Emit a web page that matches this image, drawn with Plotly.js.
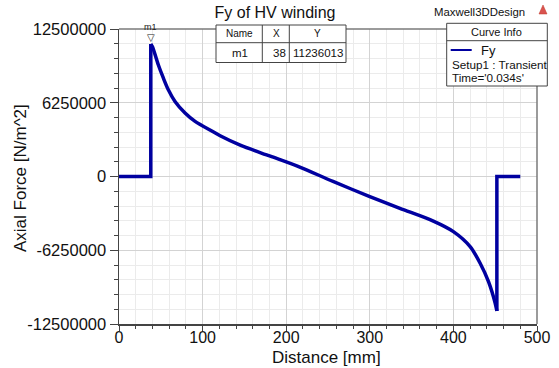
<!DOCTYPE html>
<html>
<head>
<meta charset="utf-8">
<script src="https://cdn.plot.ly/plotly-3.0.1.min.js"></script>
<style>
  html, body { margin: 0; padding: 0; background: #ffffff; }
  #chart { width: 559px; height: 368px; }
</style>
</head>
<body>
<div id="chart"></div>
<script>
// ---- data ----
const distance = [0, 38, 38, 40, 47, 53, 59, 67, 79, 91, 111, 121, 145, 181, 217, 256, 300, 336, 376, 400, 420, 432, 442, 450, 452, 452, 480];
const axialForce = [0, 0, 11236013, 11000000, 9470000, 8350000, 7350000, 6360000, 5380000, 4670000, 3850000, 3450000, 2650000, 1720000, 780000, -420000, -1700000, -2700000, -3780000, -4670000, -5940000, -7350000, -8910000, -10740000, -11400000, 0, 0];

const xTickVals = [0, 100, 200, 300, 400, 500];
const yTickVals = [-12500000, -6250000, 0, 6250000, 12500000];
const yTickText = ['-12500000', '-6250000', '0', '6250000', '12500000'];

const markerName = 'm1';
const markerX = 38;
const markerY = 11236013;

const tableHeader = ['Name', 'X', 'Y'];
const tableRow = [markerName, String(markerX), String(markerY)];

const curveName = 'Fy';
const curveInfo = ['Setup1 : Transient', "Time='0.034s'"];

// ---- layout geometry (pixels) ----
const W = 559, H = 368;
const L = 119, R = 537, T = 29, B = 324;
const px = v => (v - L) / (R - L);
const py = v => (B - v) / (B - T);

const FONT = 'Liberation Sans, Arial, sans-serif';
const lineColor = '#0000a0';

// split the series at its jumps: flat start, smooth curve, jump back, flat end
const peakIdx = axialForce.indexOf(markerY);
const minIdx = axialForce.indexOf(Math.min(...axialForce));
const base = { type: 'scatter', mode: 'lines', showlegend: false, hoverinfo: 'skip' };
const traces = [
  Object.assign({}, base, { x: distance.slice(0, peakIdx + 1), y: axialForce.slice(0, peakIdx + 1), line: { color: lineColor, width: 3.5, shape: 'linear' } }),
  Object.assign({}, base, { x: distance.slice(peakIdx, minIdx + 1), y: axialForce.slice(peakIdx, minIdx + 1), line: { color: lineColor, width: 3.5, shape: 'spline', smoothing: 0.8 }, name: curveName }),
  Object.assign({}, base, { x: distance.slice(minIdx), y: axialForce.slice(minIdx), line: { color: lineColor, width: 3.5, shape: 'linear' } })
];

const shapes = [
  { type: 'line', xref: 'paper', yref: 'paper', x0: 0, x1: 1, y0: 1, y1: 1, line: { color: '#7a7a7a', width: 1.5 }, layer: 'above' },
  { type: 'line', xref: 'paper', yref: 'paper', x0: 1, x1: 1, y0: 0, y1: 1, line: { color: '#7a7a7a', width: 1.5 }, layer: 'above' },
  // marker table
  { type: 'rect', xref: 'paper', yref: 'paper', x0: px(216), x1: px(346), y0: py(62.5), y1: py(25), fillcolor: '#ffffff', line: { color: '#444', width: 1 }, layer: 'above' },
  { type: 'line', xref: 'paper', yref: 'paper', x0: px(216), x1: px(346), y0: py(42.7), y1: py(42.7), line: { color: '#444', width: 1 }, layer: 'above' },
  { type: 'line', xref: 'paper', yref: 'paper', x0: px(262.3), x1: px(262.3), y0: py(62.5), y1: py(25), line: { color: '#444', width: 1 }, layer: 'above' },
  { type: 'line', xref: 'paper', yref: 'paper', x0: px(289.3), x1: px(289.3), y0: py(62.5), y1: py(25), line: { color: '#444', width: 1 }, layer: 'above' },
  // curve info box
  { type: 'rect', xref: 'paper', yref: 'paper', x0: px(446.7), x1: px(547.3), y0: py(86), y1: py(23.3), fillcolor: '#ffffff', line: { color: '#444', width: 1 }, layer: 'above' },
  { type: 'line', xref: 'paper', yref: 'paper', x0: px(446.7), x1: px(547.3), y0: py(40.7), y1: py(40.7), line: { color: '#444', width: 1 }, layer: 'above' },
  { type: 'line', xref: 'paper', yref: 'paper', x0: px(450.7), x1: px(471.7), y0: py(50), y1: py(50), line: { color: lineColor, width: 2 }, layer: 'above' },
  // logo triangle
  { type: 'path', xref: 'paper', yref: 'paper', path: `M ${px(539)} ${py(14)} L ${px(547)} ${py(14)} L ${px(543)} ${py(5)} Z`, fillcolor: '#d9534f', line: { color: '#c0392b', width: 0.5 }, layer: 'above' }
];

const ann = (text, x, y, size, xanchor, extra) => Object.assign({
  text: text, xref: 'paper', yref: 'paper', x: px(x), y: py(y),
  xanchor: xanchor || 'center', yanchor: 'middle', showarrow: false,
  font: { family: FONT, size: size, color: '#111' }
}, extra || {});

const annotations = [
  ann('Distance [mm]', 326, 357, 17, 'center'),
  ann('Axial Force [N/m^2]', 20, 178, 17, 'center', { textangle: -90 }),
  { text: markerName, x: markerX, y: markerY, xref: 'x', yref: 'y', showarrow: false, yanchor: 'bottom', yshift: 10, font: { family: FONT, size: 9, color: '#222' } },
  { text: '▽', x: markerX, y: markerY, xref: 'x', yref: 'y', showarrow: false, yanchor: 'bottom', yshift: -1, font: { family: 'DejaVu Sans', size: 10, color: '#222' } },
  ann(tableHeader[0], 239, 34, 10, 'center'),
  ann(tableHeader[1], 276, 34, 10, 'center'),
  ann(tableHeader[2], 317, 34, 10, 'center'),
  ann(tableRow[0], 240, 53, 11.5, 'center'),
  ann(tableRow[1], 287.5, 53, 11.5, 'right'),
  ann(tableRow[2], 344.5, 53, 11.5, 'right'),
  ann('Curve Info', 496, 32.3, 11, 'center'),
  ann(curveName, 479, 50, 13, 'left'),
  ann(curveInfo[0], 449.5, 64.3, 11.7, 'left'),
  ann(curveInfo[1], 449.5, 77.7, 11.7, 'left'),
  ann('Maxwell3DDesign', 432, 11.7, 11.4, 'left')
];

const layout = {
  width: W, height: H,
  margin: { l: L, r: W - R, t: T, b: H - B, pad: 0 },
  paper_bgcolor: '#ffffff',
  plot_bgcolor: '#ffffff',
  showlegend: false,
  title: {
    text: 'Fy of HV winding',
    x: 275 / W, xref: 'container', xanchor: 'center',
    y: 1 - 12 / H, yref: 'container', yanchor: 'middle',
    font: { family: FONT, size: 16, color: '#111' }
  },
  xaxis: {
    range: [0, 500],
    tickmode: 'array', tickvals: xTickVals,
    ticks: 'outside', ticklen: 5, tickwidth: 1, tickcolor: '#444',
    ticklabelstandoff: -7,
    showline: true, linecolor: '#444', linewidth: 1.5,
    showgrid: true, gridcolor: '#d3d3d3', gridwidth: 1,
    zeroline: false,
    tickfont: { family: FONT, size: 16, color: '#111' },
    minor: { dtick: 20, tick0: 0, ticks: 'outside', ticklen: 3, tickcolor: '#444', showgrid: true, gridcolor: '#ebebeb', gridwidth: 1 },
    fixedrange: true
  },
  yaxis: {
    range: [-12500000, 12500000],
    tickmode: 'array', tickvals: yTickVals, ticktext: yTickText,
    ticks: 'outside', ticklen: 8, tickwidth: 1, tickcolor: '#444',
    showline: true, linecolor: '#444', linewidth: 1.5,
    showgrid: true, gridcolor: '#d3d3d3', gridwidth: 1,
    zeroline: false,
    tickfont: { family: FONT, size: 16.5, color: '#111' },
    minor: { dtick: 1250000, tick0: 0, ticks: 'outside', ticklen: 4, tickcolor: '#444', showgrid: true, gridcolor: '#ebebeb', gridwidth: 1 },
    fixedrange: true
  },
  shapes: shapes,
  annotations: annotations
};

Plotly.newPlot('chart', traces, layout, { displayModeBar: false, staticPlot: true });
</script>
</body>
</html>
